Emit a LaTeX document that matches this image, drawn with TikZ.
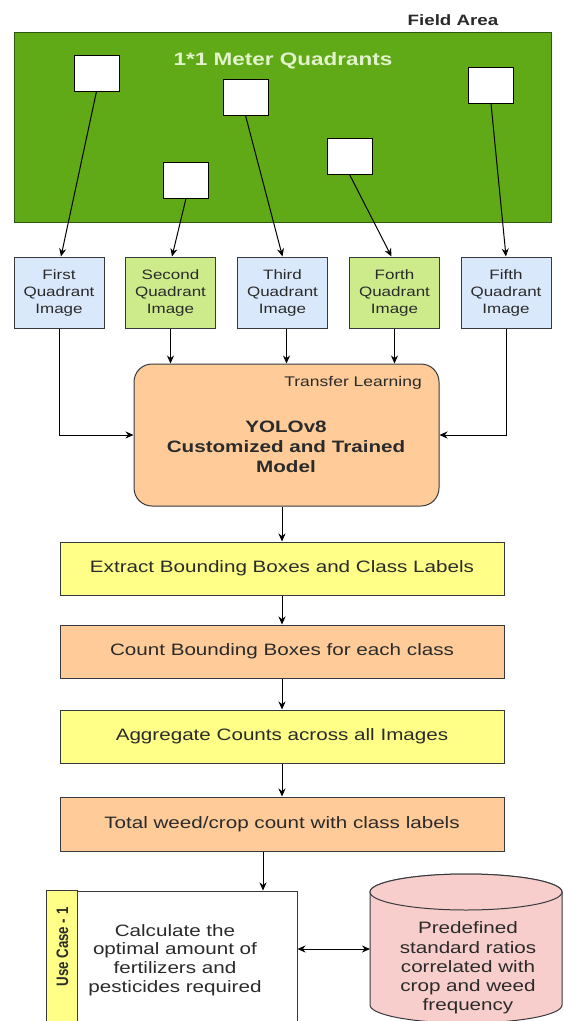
\documentclass[tikz,border=0pt]{standalone}
\usepackage{fontspec}
\setmainfont{Liberation Sans}[FakeStretch=1.25]
\newfontfamily\plainsans{Liberation Sans}
\usetikzlibrary{arrows.meta,calc}

\definecolor{fieldgreen}{HTML}{60A917}
\definecolor{fieldedge}{HTML}{2D5A10}
\definecolor{titlegreen}{HTML}{E2F2CC}
\definecolor{edge}{HTML}{36393D}
\definecolor{txt}{HTML}{2A2A2A}
\definecolor{lightblue}{HTML}{DAE8FC}
\definecolor{lightgreen}{HTML}{CDEB8B}
\definecolor{peach}{HTML}{FFCC99}
\definecolor{paleyellow}{HTML}{FFFF88}
\definecolor{rose}{HTML}{F8CECC}

\tikzset{
  plot/.style={x=1pt, y=-1pt},
  wire/.style={line width=1pt, draw=black, -{Stealth[length=8pt,width=7pt]}},
  twowire/.style={line width=1pt, draw=black, {Stealth[length=8pt,width=7pt]}-{Stealth[length=8pt,width=7pt]}},
  plotsquare/.style={draw=black, line width=0.9pt, fill=white, minimum width=45pt, minimum height=36pt, inner sep=0pt},
  quadbox/.style={draw=edge, line width=1pt, minimum width=90pt, minimum height=71pt, inner sep=0pt,
    align=center, text=txt, font=\fontsize{13.6}{17}\selectfont},
  flowbox/.style={draw=edge, line width=1pt, minimum width=444pt, minimum height=53pt, inner sep=0pt,
    text=txt, font=\fontsize{16.5}{20}\selectfont},
  bodytext/.style={align=center, text=txt, font=\fontsize{16.5}{19.2}\selectfont, inner sep=0pt},
}

\begin{document}
\begin{tikzpicture}[plot]
\useasboundingbox[fill=white] (0,0) rectangle (563,1021);

% field with sampled quadrants
\node[draw=fieldedge, line width=1pt, fill=fieldgreen, minimum width=537pt, minimum height=190pt, inner sep=0pt]
  (field) at (282.5,127) {};
\node[text=txt, font=\bfseries\fontsize{15}{18}\selectfont, inner sep=0pt] (fieldlabel) at (453,20) {Field Area};
\node[text=titlegreen, font=\bfseries\fontsize{18}{22}\selectfont, inner sep=0pt] (fieldtitle) at (283,61) {1*1 Meter Quadrants};

\node[plotsquare] (s1) at (96.5,73) {};
\node[plotsquare] (s2) at (186,180) {};
\node[plotsquare] (s3) at (245.5,97) {};
\node[plotsquare] (s4) at (349.5,156) {};
\node[plotsquare] (s5) at (491,85) {};

% quadrant images
\node[quadbox, fill=lightblue]  (q1) at (59,292.5)    {First\\Quadrant\\Image};
\node[quadbox, fill=lightgreen] (q2) at (170.5,292.5) {Second\\Quadrant\\Image};
\node[quadbox, fill=lightblue]  (q3) at (282.5,292.5) {Third\\Quadrant\\Image};
\node[quadbox, fill=lightgreen] (q4) at (394.5,292.5) {Forth\\Quadrant\\Image};
\node[quadbox, fill=lightblue]  (q5) at (506,292.5)   {Fifth\\Quadrant\\Image};

\draw[wire] (s1.south) -- ([xshift=2pt]q1.north);
\draw[wire] (s2.south) -- ([xshift=1.5pt]q2.north);
\draw[wire] (s3.south) -- (q3.north);
\draw[wire] (s4.south) -- ([xshift=-3pt]q4.north);
\draw[wire] (s5.south) -- (q5.north);

% detection model
\node[draw=edge, line width=1pt, fill=peach, rounded corners=18pt, minimum width=305pt, minimum height=142pt, inner sep=0pt]
  (yolo) at (286.5,435) {};
\node[anchor=east, text=txt, font=\fontsize{14}{17}\selectfont, inner sep=0pt] (transfer) at (422,383) {Transfer Learning};
\node[bodytext, font=\bfseries\fontsize{16.5}{20}\selectfont] (yolotext) at (286,447)
  {YOLOv8\\Customized and Trained\\Model};

\draw[wire] (q1.south) |- (yolo.west);
\draw[wire] (q2.south) -- (q2.south |- yolo.north);
\draw[wire] ([xshift=4pt]q3.south) -- ([xshift=4pt]q3.south |- yolo.north);
\draw[wire] (q4.south) -- (q4.south |- yolo.north);
\draw[wire] (q5.south) |- (yolo.east);

% post-processing pipeline
\node[flowbox, fill=paleyellow] (extract) at (282,568.5) {Extract Bounding Boxes and Class Labels};
\node[flowbox, fill=peach]      (count)   at (282,651.5) {Count Bounding Boxes for each class};
\node[flowbox, fill=paleyellow] (agg)     at (282,736.5) {Aggregate Counts across all Images};
\node[flowbox, fill=peach, minimum height=54pt] (total) at (282,824) {Total weed/crop count with class labels};

\draw[wire] (yolo.south -| extract.north) -- (extract.north);
\draw[wire] (extract.south) -- (count.north);
\draw[wire] (count.south) -- (agg.north);
\draw[wire] (agg.south) -- (total.north);

% use case and reference data
\node[draw=edge, line width=1pt, fill=white, minimum width=250pt, minimum height=139pt, inner sep=0pt]
  (uc) at (172,960.5) {};
\filldraw[draw=edge, line width=1pt, fill=paleyellow] (uc.north west) rectangle ($(uc.south west)+(31,0)$);
\node[rotate=90, text=txt, font=\plainsans\bfseries\fontsize{13.3}{16}\selectfont, inner sep=0pt] (uclabel) at (62.5,947)
  {\scalebox{1}[1.25]{Use Case - 1}};
\node[bodytext, font=\fontsize{16.5}{18.7}\selectfont] (uctext) at (175,960)
  {Calculate the\\optimal amount of\\fertilizers and\\pesticides required};

\path[fill=rose, draw=edge, line width=1pt] (370,892) -- (370,1005)
  arc[start angle=180, end angle=360, x radius=96pt, y radius=18pt] -- (562,892)
  arc[start angle=0, end angle=180, x radius=96pt, y radius=18pt] -- cycle;
\draw[fill=rose, draw=edge, line width=1pt] (466,892) ellipse[x radius=96pt, y radius=18pt];
\node[bodytext, minimum width=192pt] (db) at (468,968)
  {Predefined\\standard ratios\\correlated with\\crop and weed\\frequency};

\coordinate (dropx) at (263,0);
\coordinate (linky) at (0,949);
\draw[wire] (total.south -| dropx) -- (uc.north -| dropx);
\draw[twowire] (uc.east |- linky) -- (370,949 |- linky);
\end{tikzpicture}
\end{document}
